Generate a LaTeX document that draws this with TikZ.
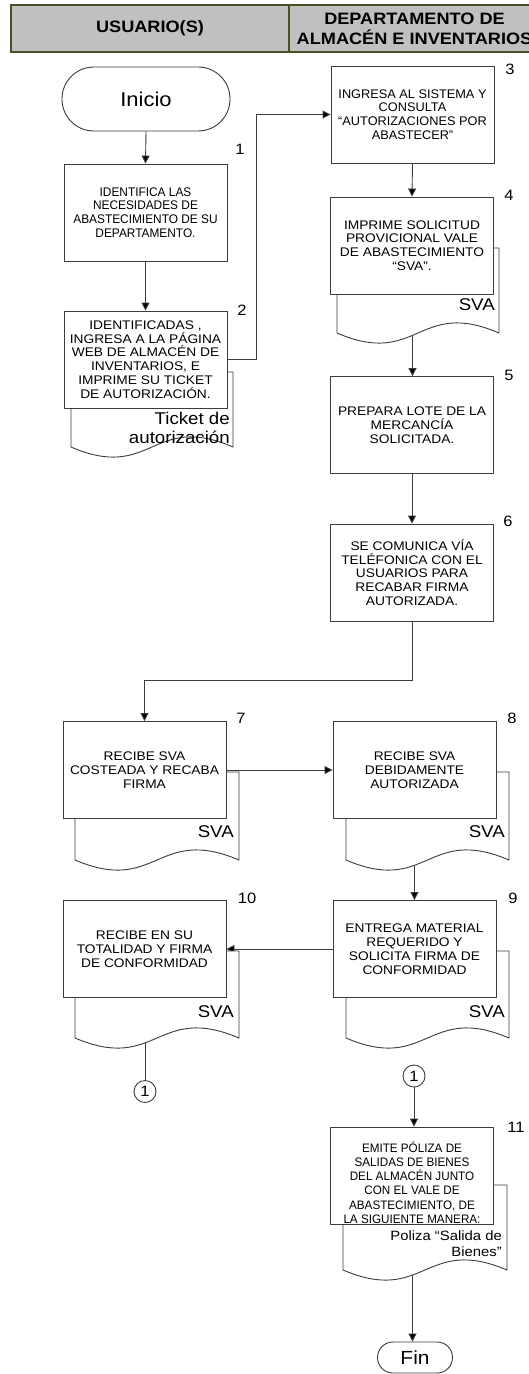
\documentclass[tikz,border=0pt]{standalone}
\usepackage{fontspec}
\setmainfont{Liberation Sans}[FakeStretch=1.1]
\newfontfamily\condfont{Liberation Sans}[FakeStretch=0.95]
\newfontfamily\midfont{Liberation Sans}[FakeStretch=1.02]
\usetikzlibrary{arrows.meta,backgrounds}
\definecolor{hdrfill}{RGB}{192,192,192}
\definecolor{hdrline}{RGB}{78,78,36}
\definecolor{lncol}{RGB}{60,60,60}
\newcommand\docpath[4]{%
  \draw[docline] (#1,#3) -- (#2,#3) -- (#2,#4) .. controls ({(#1+#2)/2},{#4-35}) and ({(#1+#2)/2},{#4+35}) .. (#1,#4) -- cycle;}
\begin{document}
\begin{tikzpicture}[x=1pt,y=-1pt,
  hdrbox/.style={draw=hdrline, line width=1.8pt, fill=hdrfill, font=\bfseries\fontsize{16.5}{20}\selectfont, align=center, inner sep=0pt, minimum height=47pt},
  procbox/.style={draw=lncol, line width=0.9pt, fill=white, minimum width=163pt, minimum height=97pt, inner sep=0pt, align=center, font=\fontsize{12.5}{13.8}\selectfont},
  termbox/.style={draw=lncol, line width=0.9pt, fill=white, inner sep=0pt},
  numlbl/.style={font=\fontsize{15}{17}\selectfont, inner sep=0pt},
  doctxt/.style={font=\fontsize{17}{19}\selectfont, align=right, inner sep=0pt, anchor=east},
  docline/.style={draw=lncol, line width=0.9pt, fill=white},
  conn/.style={draw=lncol, line width=0.9pt},
  arr/.style={conn, -{Triangle[length=8pt,width=8pt,fill=black]}},
  circ/.style={draw=lncol, line width=0.9pt, fill=white, circle, minimum size=22pt, inner sep=0pt, font=\fontsize{15}{17}\selectfont}
]
\useasboundingbox (0,0) rectangle (529,1374);
\clip (0,0) rectangle (529,1374);
% header
\node[hdrbox, minimum width=278pt] (h1) at (150,28.5) {USUARIO(S)};
\node[hdrbox, minimum width=251pt] (h2) at (414.5,28.5) {DEPARTAMENTO DE\\ALMAC\'EN E INVENTARIOS};
% terminal start
\node[termbox, minimum width=168pt, minimum height=64pt, rounded corners=31.9pt, font=\fontsize{20}{22}\selectfont] (ini) at (146,99) {Inicio};
% documents (behind boxes)
\docpath{71}{233}{372}{447}
\docpath{337}{499}{248}{333}
\docpath{75}{239}{772}{860}
\docpath{346}{509}{772}{860}
\docpath{346}{509}{951}{1038}
\docpath{75}{239}{951}{1038}
\docpath{343}{507}{1185}{1270}
\coordinate (dt) at (150,430);
\coordinate (d4) at (412.5,310);
\coordinate (d8) at (414.5,840);
\coordinate (d10) at (145,1020);
\coordinate (d11) at (412.5,1250);
\node[doctxt] (tt) at (230,427.5) {Ticket de\\autorizaci\'on};
\node[doctxt] (s4) at (495,305) {SVA};
\node[doctxt] (s7) at (234,832) {SVA};
\node[doctxt] (s8) at (505,832) {SVA};
\node[doctxt] (s9) at (505,1012) {SVA};
\node[doctxt] (s10) at (234,1012) {SVA};
\node[doctxt, font=\fontsize{13.5}{16}\selectfont] (s11) at (502,1244) {Poliza “Salida de\\Bienes”};
% process boxes
\node[procbox, font=\condfont\fontsize{12.5}{13.8}\selectfont] (b1) at (145.5,212.5) {IDENTIFICA LAS\\NECESIDADES DE\\ABASTECIMIENTO DE SU\\DEPARTAMENTO.};
\node[procbox] (b2) at (145.5,359.5) {IDENTIFICADAS ,\\INGRESA A LA P\'AGINA\\WEB DE ALMAC\'EN DE\\INVENTARIOS, E\\IMPRIME SU TICKET\\DE AUTORIZACI\'ON.};
\node[procbox, font=\midfont\fontsize{12.5}{13.8}\selectfont] (b3) at (412.5,114.5) {INGRESA AL SISTEMA Y\\CONSULTA\\“AUTORIZACIONES POR\\ABASTECER”};
\node[procbox] (b4) at (412,245.5) {IMPRIME SOLICITUD\\PROVICIONAL VALE\\DE ABASTECIMIENTO\\“SVA”.};
\node[procbox] (b5) at (412,425) {PREPARA LOTE DE LA\\MERCANC\'IA\\SOLICITADA.};
\node[procbox] (b6) at (412,572.5) {SE COMUNICA V\'IA\\TEL\'EFONICA CON EL\\USUARIOS PARA\\RECABAR FIRMA\\AUTORIZADA.};
\node[procbox] (b7) at (144.5,770) {RECIBE SVA\\COSTEADA Y RECABA\\FIRMA};
\node[procbox] (b8) at (414.5,770) {RECIBE SVA\\DEBIDAMENTE\\AUTORIZADA};
\node[procbox] (b9) at (414.5,949) {ENTREGA MATERIAL\\REQUERIDO Y\\SOLICITA FIRMA DE\\CONFORMIDAD};
\node[procbox] (b10) at (144.5,949) {RECIBE EN SU\\TOTALIDAD Y FIRMA\\DE CONFORMIDAD};
\node[procbox] (b11) at (412,1175.5) {};
\node[inner sep=0pt, align=center, font=\condfont\fontsize{12.3}{14.3}\selectfont] (b11t) at ([yshift=-7pt]b11.center) {EMITE P\'OLIZA DE\\SALIDAS DE BIENES\\DEL ALMAC\'EN JUNTO\\CON EL VALE DE\\ABASTECIMIENTO, DE\\LA SIGUIENTE MANERA:};
% connectors circles
\node[circ] (c1) at (145,1091.5) {1};
\node[circ] (c2) at (414,1076) {1};
% terminal end
\node[termbox, minimum width=75pt, minimum height=31pt, rounded corners=15.4pt, font=\fontsize{19}{21}\selectfont] (fin) at (415,1357.5) {Fin};
% step numbers
\node[numlbl] (n1) at (240,149) {1};
\node[numlbl] (n2) at (242,310) {2};
\node[numlbl] (n3) at (510,69) {3};
\node[numlbl] (n4) at (509,195) {4};
\node[numlbl] (n5) at (509,375) {5};
\node[numlbl] (n6) at (508,521) {6};
\node[numlbl] (n7) at (241,718) {7};
\node[numlbl] (n8) at (512,718) {8};
\node[numlbl] (n9) at (513,898) {9};
\node[numlbl] (n10) at (247,898) {10};
\node[numlbl] (n11) at (516,1127) {11};
% connectors
\begin{scope}[on background layer]
\draw[arr] (ini.south) -- (b1.north);
\draw[arr] (b1.south) -- (b2.north);
\draw[arr] (b2.east) -- ++(29,0) |- (b3.west);
\draw[arr] (b3.south) -- (b4.north);
\draw[arr] (d4) -- (d4 |- b5.north);
\draw[arr] (b5.south) -- (b6.north);
\draw[arr] (b6.south) -- ++(0,59) -| (b7.north);
\draw[arr] (b7.east) -- (b8.west);
\draw[arr] (d8) -- (b9.north);
\draw[arr] (b9.west) -- (b10.east);
\draw[conn] (d10) -- (c1.north);
\draw[arr] (c2.south) -- (c2.south |- b11.north);
\draw[arr] (d11) -- (d11 |- fin.north);
\end{scope}
\end{tikzpicture}
\end{document}
